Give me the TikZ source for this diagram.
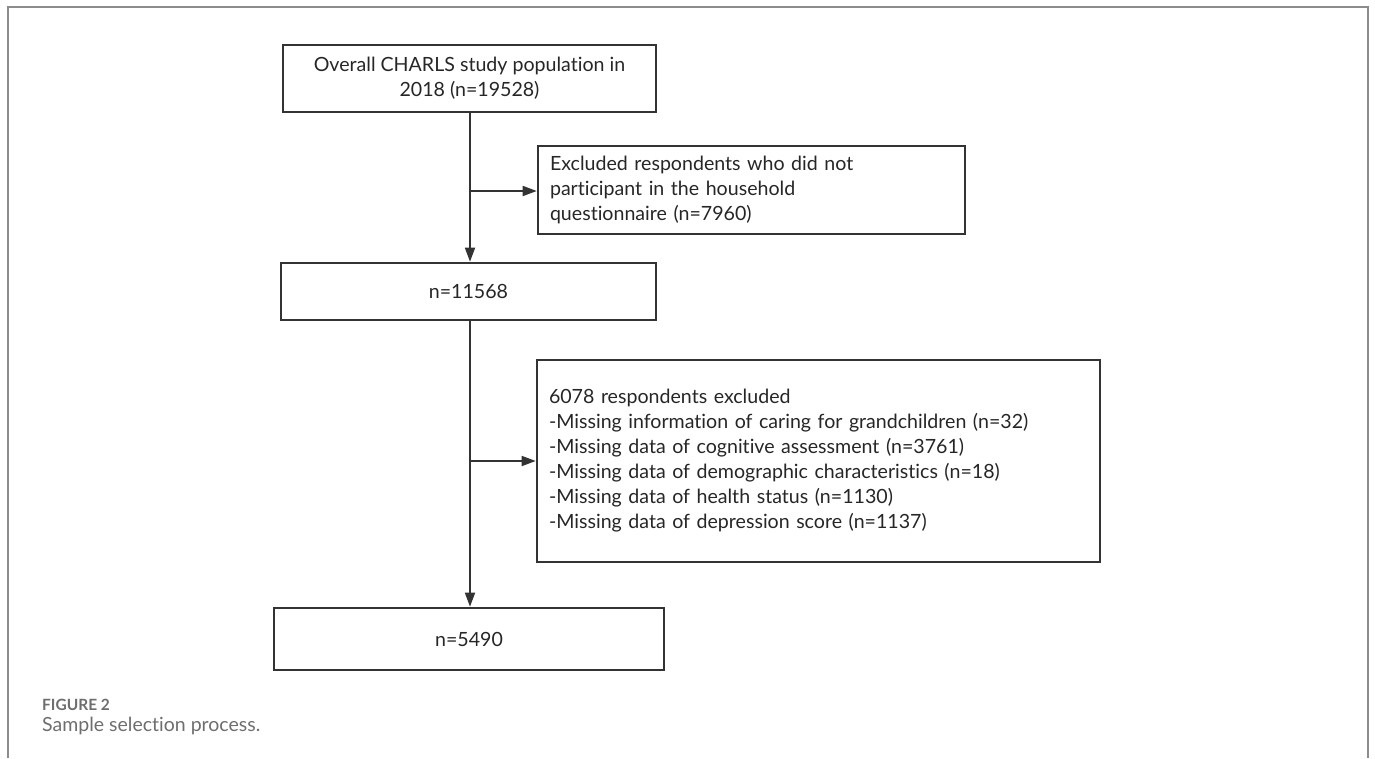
\documentclass[tikz,border=0pt]{standalone}
\usepackage{fontspec}
\setmainfont{Lato}[Ligatures={NoCommon}]
\usetikzlibrary{positioning,arrows.meta}

\definecolor{boxline}{HTML}{333333}
\definecolor{framegray}{HTML}{8C8C8C}
\definecolor{capgray}{HTML}{6E6E6E}

\tikzset{
  flowbox/.style={draw=boxline,line width=2.6pt,rectangle,inner sep=0pt,
    font=\fontsize{19.6}{25}\selectfont,text=black!85},
  flowarrow/.style={draw=boxline,line width=1.7pt,-{Triangle[length=14pt,width=10pt]}},
}

\begin{document}
\begin{tikzpicture}[x=1pt,y=-1pt]
    % page
    \useasboundingbox (0,0) rectangle (1375,758);
    \draw[framegray,line width=2pt] (8,758) -- (8,7) -- (1368,7) -- (1368,758);

    % main boxes
    \node[flowbox,minimum width=373pt,minimum height=67pt,align=center] (total) at (469.5,78.5)
        {Overall CHARLS study population in\\2018 (n=19528)};
    \node[flowbox,minimum width=375pt,minimum height=57pt] (mid) at (468.5,291.5) {n=11568};
    \node[flowbox,minimum width=390pt,minimum height=62pt] (final) at (469,639) {n=5490};

    % exclusion boxes
    \node[flowbox,minimum width=427pt,minimum height=88pt,text width=403pt,align=left] (excl1) at (751.5,190)
        {Excluded respondents who did not\\participant in the household\\questionnaire (n=7960)};
    \node[flowbox,minimum width=563pt,minimum height=202pt,text width=539pt,align=left] (excl2) at (818.5,461)
        {6078 respondents excluded\\-Missing information of caring for grandchildren (n=32)\\-Missing data of cognitive assessment (n=3761)\\-Missing data of demographic characteristics (n=18)\\-Missing data of health status (n=1130)\\-Missing data of depression score (n=1137)};

    % connectors
    \coordinate (split1) at (470,191);
    \coordinate (split2) at (470,461);
    \draw[flowarrow] (total.south -| split1) -- (mid.north -| split1);
    \draw[flowarrow] (mid.south -| split1) -- (final.north -| split1);
    \draw[flowarrow] (split1) -- (excl1.west |- split1);
    \draw[flowarrow] (split2) -- (excl2.west |- split2);

    % caption
    \node[anchor=base west,inner sep=0pt,text=capgray,font=\fontsize{15.5}{17}\selectfont\bfseries] (figlabel) at (42,710) {FIGURE 2};
    \node[anchor=base west,inner sep=0pt,text=capgray,font=\fontsize{19.5}{22}\selectfont] (figtitle) at (42,731) {Sample selection process.};
\end{tikzpicture}
\end{document}
